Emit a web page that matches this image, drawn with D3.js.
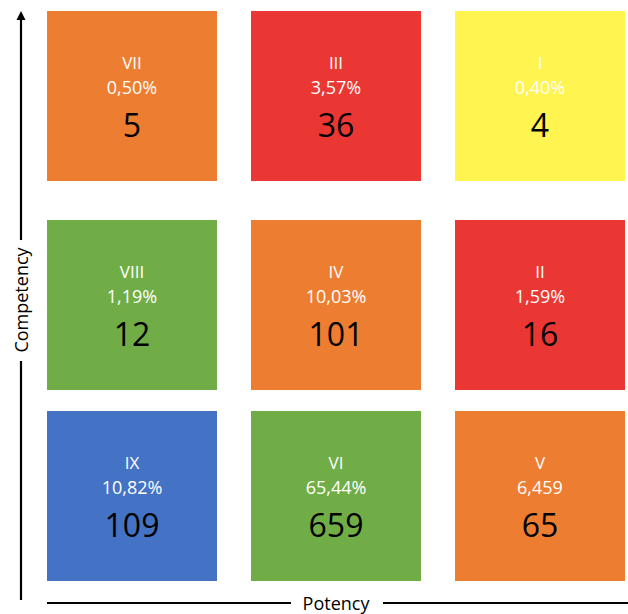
<!DOCTYPE html>
<html>
<head>
<meta charset="utf-8">
<script src="https://cdn.jsdelivr.net/npm/d3@7"></script>
<style>
  html, body { margin: 0; padding: 0; background: #fff; }
  svg { display: block; font-family: "Open Sans", "Noto Sans", sans-serif; }
</style>
</head>
<body>
<svg id="chart" width="628" height="614"></svg>
<script>
// Data
const potencyLevels = ["low", "medium", "high"];        // columns (x)
const competencyLevels = ["high", "medium", "low"];     // rows (y), top to bottom
const cellLabels = ["VII", "III", "I", "VIII", "IV", "II", "IX", "VI", "V"];
const cellPercents = ["0,50%", "3,57%", "0,40%", "1,19%", "10,03%", "1,59%", "10,82%", "65,44%", "6,459"];
const cellCounts = [5, 36, 4, 12, 101, 16, 109, 659, 65];
const cellPotency = ["low", "medium", "high", "low", "medium", "high", "low", "medium", "high"];
const cellCompetency = ["high", "high", "high", "medium", "medium", "medium", "low", "low", "low"];
const cellColors = ["#ED7D31", "#EB3733", "#FFF450", "#70AD47", "#ED7D31", "#EB3733", "#4472C4", "#70AD47", "#ED7D31"];

const cells = cellLabels.map((l, i) => ({
  label: l, pct: cellPercents[i], count: cellCounts[i],
  pot: cellPotency[i], comp: cellCompetency[i], color: cellColors[i]
}));

const svg = d3.select("#chart");
const size = 170;

const x = d3.scaleBand().domain(potencyLevels).range([47, 625]).paddingInner(34 / 204).paddingOuter(0);
const y = d3.scaleOrdinal().domain(competencyLevels).range([11, 220, 411]);

const g = svg.append("g");
const cell = g.selectAll("g.cell").data(cells).join("g")
  .attr("class", "cell")
  .attr("transform", d => `translate(${x(d.pot)},${y(d.comp)})`);

cell.append("rect")
  .attr("width", x.bandwidth()).attr("height", size)
  .attr("fill", d => d.color);

cell.append("text")
  .attr("x", x.bandwidth() / 2).attr("y", 51)
  .attr("text-anchor", "middle").attr("dominant-baseline", "central")
  .attr("fill", "#fff").attr("font-size", 17).attr("font-weight", 500)
  .text(d => d.label);

cell.append("text")
  .attr("x", x.bandwidth() / 2).attr("y", 76)
  .attr("text-anchor", "middle").attr("dominant-baseline", "central")
  .attr("fill", "#fff").attr("font-size", 18).attr("font-weight", 500)
  .text(d => d.pct);

cell.append("text")
  .attr("x", x.bandwidth() / 2).attr("y", 113)
  .attr("text-anchor", "middle").attr("dominant-baseline", "central")
  .attr("fill", "#000").attr("font-size", 32)
  .text(d => d.count);

// Y axis (Competency) with arrow
const axisG = svg.append("g").attr("stroke", "#000").attr("stroke-width", 2.2);
axisG.append("line").attr("x1", 21).attr("x2", 21).attr("y1", 18).attr("y2", 240);
axisG.append("line").attr("x1", 21).attr("x2", 21).attr("y1", 361).attr("y2", 600);
svg.append("path").attr("d", "M21,11 L16.5,20 L25.5,20 Z").attr("fill", "#000");
svg.append("text")
  .attr("transform", "translate(21,300) rotate(-90)")
  .attr("text-anchor", "middle").attr("dominant-baseline", "central")
  .attr("font-size", 18).attr("fill", "#000")
  .text("Competency");

// X axis (Potency)
axisG.append("line").attr("x1", 47).attr("x2", 291).attr("y1", 603).attr("y2", 603);
axisG.append("line").attr("x1", 383).attr("x2", 628).attr("y1", 603).attr("y2", 603);
svg.append("text")
  .attr("x", 336).attr("y", 603)
  .attr("text-anchor", "middle").attr("dominant-baseline", "central")
  .attr("font-size", 18).attr("fill", "#000")
  .text("Potency");
</script>
</body>
</html>
